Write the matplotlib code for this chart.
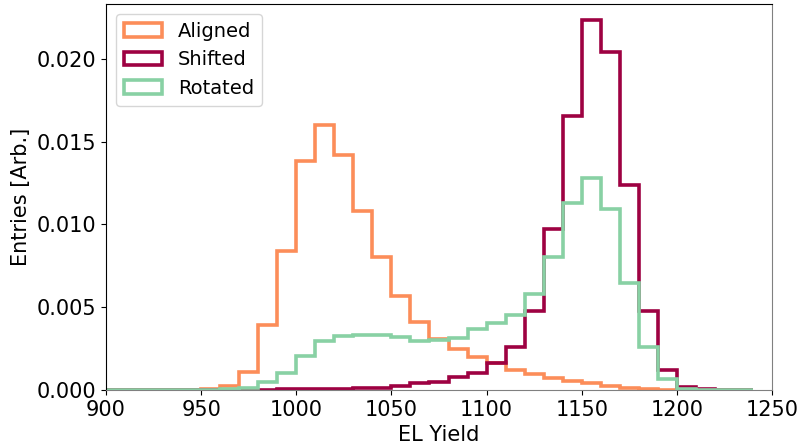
import matplotlib.pyplot as plt
import numpy as np

# EL yield histograms, 10-unit bins from 900 to 1240
edges = np.arange(900, 1250, 10)
centres = edges[:-1] + 5

aligned = [0, 0, 0, 0, 0, 0.00005, 0.00024, 0.0011, 0.0039, 0.0084,
           0.0138, 0.0160, 0.0142, 0.0108, 0.0080, 0.0057, 0.0041, 0.00306, 0.00246, 0.00201,
           0.00165, 0.00121, 0.00097, 0.0007, 0.00052, 0.0004, 0.00024, 0.0001, 0.00006, 0.00002,
           0, 0, 0, 0]
shifted = [0, 0, 0, 0, 0, 0, 0, 0.00001, 0.00002, 0.00003,
           0.00004, 0.00005, 0.00007, 0.00009, 0.0001, 0.00026, 0.0004, 0.0005, 0.0008, 0.00105,
           0.00165, 0.00262, 0.00477, 0.00971, 0.01655, 0.02231, 0.02038, 0.01239, 0.00475, 0.00122,
           0.00016, 0.00003, 0, 0]
rotated = [0, 0, 0, 0, 0, 0.00001, 0.00003, 0.0001, 0.00046, 0.00105,
           0.00207, 0.00296, 0.00326, 0.00334, 0.00330, 0.00322, 0.00294, 0.00302, 0.00312, 0.00367,
           0.00407, 0.00451, 0.00578, 0.00802, 0.01128, 0.01279, 0.01092, 0.00645, 0.00258, 0.00064,
           0.00005, 0.00002, 0.00002, 0.00002]

labels = ['Aligned', 'Shifted', 'Rotated']
colors = ['#fc8d59', '#9e0142', '#88d1a4']

fig = plt.figure(figsize=(8, 4.48), dpi=100)
ax = fig.add_axes([0.1325, 0.1295, 0.8325, 0.8615])

for vals, lab, col in zip([aligned, shifted, rotated], labels, colors):
    ax.hist(centres, bins=edges, weights=vals, histtype='step',
            linewidth=2.6, color=col, label=lab)

ax.set_xlim(900, 1250)
ax.set_ylim(0, 0.0233)
ax.set_yticks([0, 0.005, 0.01, 0.015, 0.02])
ax.tick_params(labelsize=15)
ax.set_xlabel('EL Yield', fontsize=15)
ax.set_ylabel('Entries [Arb.]', fontsize=15)
ax.spines['right'].set_color('gray')
ax.spines['bottom'].set_color('gray')
ax.legend(loc='upper left', fontsize=14)

fig.savefig('out.png', dpi=100)
